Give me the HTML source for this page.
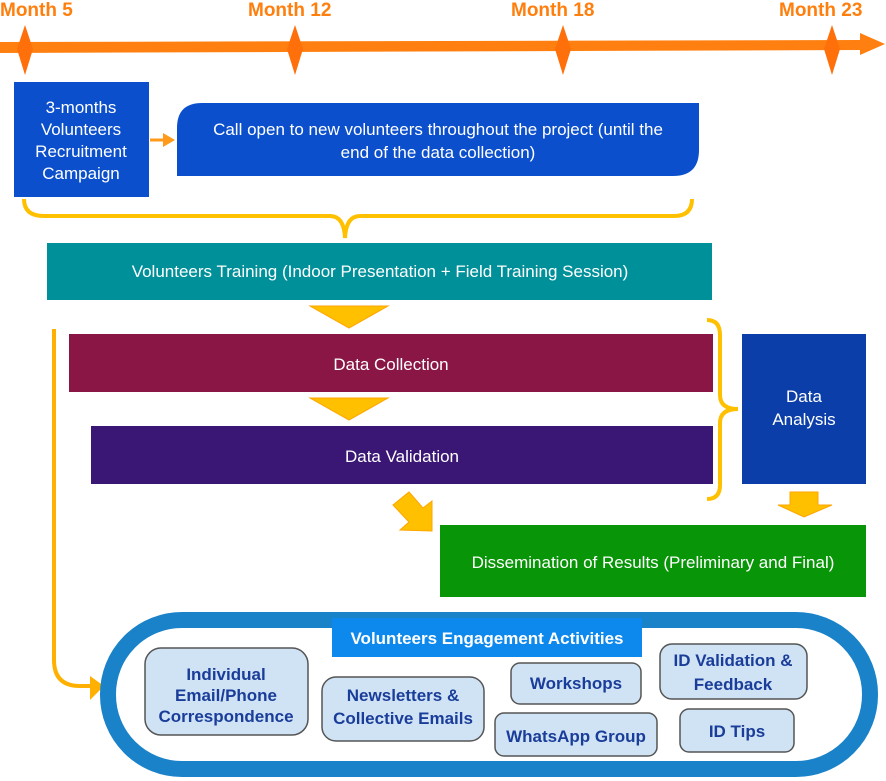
<!DOCTYPE html>
<html><head><meta charset="utf-8"><style>
html,body{margin:0;padding:0;background:#fff;}
svg{display:block;font-family:"Liberation Sans Narrow","Liberation Sans",sans-serif;}
</style></head><body>
<svg width="886" height="781" viewBox="0 0 886 781" xmlns="http://www.w3.org/2000/svg">
<!-- timeline -->
<g fill="#ff7f0e" font-weight="bold" font-size="19">
<text x="0" y="16">Month 5</text>
<text x="248" y="16">Month 12</text>
<text x="511" y="16">Month  18</text>
<text x="779" y="16">Month 23</text>
</g>
<polygon points="0,42 860,40 860,33 885,44 860,55 860,50 0,53" fill="#ff8010"/>
<g fill="#ff6f0a">
<polygon points="25,25 33,49 25,75 17,49"/>
<polygon points="295,25 303,49 295,75 287,49"/>
<polygon points="563,25 571,49 563,75 555,49"/>
<polygon points="832,25 840,49 832,75 824,49"/>
</g>
<!-- top boxes -->
<rect x="14" y="82" width="135" height="115" fill="#0b4fcc"/>
<g fill="#fff" font-size="17" text-anchor="middle">
<text x="81" y="113">3-months</text>
<text x="81" y="135">Volunteers</text>
<text x="81" y="157">Recruitment</text>
<text x="81" y="179">Campaign</text>
</g>
<line x1="150" y1="140" x2="165" y2="140" stroke="#ff9a1a" stroke-width="3"/>
<polygon points="163,133 175,140 163,147" fill="#ff9a1a"/>
<path d="M202,103 H699 V150 Q699,176 673,176 H177 V128 Q177,103 202,103 Z" fill="#0b4fcc"/>
<g fill="#fff" font-size="17" text-anchor="middle">
<text x="438" y="135">Call open to new volunteers throughout the project (until the</text>
<text x="438" y="158">end of the data collection)</text>
</g>
<!-- brace -->
<path d="M24,199 Q24,216 44,216 H330 Q344,216 345,238 Q346,216 360,216 H674 Q692,216 692,199" fill="none" stroke="#ffc000" stroke-width="4"/>
<rect x="47" y="243" width="665" height="57" fill="#00909a"/>
<text x="380" y="277" fill="#fff" font-size="17" text-anchor="middle">Volunteers Training (Indoor Presentation + Field Training Session)</text>
<polygon points="310,306 388,306 349,328" fill="#ffc000" stroke="#ffa500" stroke-width="1"/>
<rect x="69" y="334" width="644" height="58" fill="#8a1645"/>
<text x="391" y="370" fill="#fff" font-size="17" text-anchor="middle">Data Collection</text>
<polygon points="310,398 388,398 349,420" fill="#ffc000" stroke="#ffa500" stroke-width="1"/>
<rect x="91" y="426" width="622" height="58" fill="#3a1775"/>
<text x="402" y="462" fill="#fff" font-size="17" text-anchor="middle">Data Validation</text>
<rect x="742" y="334" width="124" height="150" fill="#0b3ea8"/>
<g fill="#fff" font-size="17" text-anchor="middle">
<text x="804" y="402">Data</text>
<text x="804" y="425">Analysis</text>
</g>
<path d="M707,320 Q720,320 720,335 V395 Q720,409 738,409 Q720,409 720,423 V485 Q720,499 707,499" fill="none" stroke="#ffc000" stroke-width="4"/>
<polygon points="393,505 409,492 423,508 432,501 432,531 400,530 409,522" fill="#ffc000" stroke="#ffa500" stroke-width="1"/>
<polygon points="790,492 818,492 818,505 832,505 804,517 778,505 790,505" fill="#ffc000" stroke="#ffa500" stroke-width="1"/>
<rect x="440" y="525" width="426" height="72" fill="#099508"/>
<text x="653" y="568" fill="#fff" font-size="17" text-anchor="middle">Dissemination of Results (Preliminary and Final)</text>
<!-- left line -->
<path d="M54,329 V660 Q54,686 80,686 H92" fill="none" stroke="#ffb000" stroke-width="4"/>
<polygon points="90,676 104,686 90,700" fill="#ffb000"/>
<!-- oval -->
<rect x="108" y="620" width="762" height="149" rx="74" fill="#fff" stroke="#1a82c8" stroke-width="16"/>
<rect x="332" y="618" width="310" height="39" fill="#0d88ec"/>
<text x="487" y="644" fill="#fff" font-size="17" font-weight="bold" text-anchor="middle">Volunteers Engagement Activities</text>
<g fill="#cfe3f5" stroke="#555" stroke-width="1.5">
<rect x="145" y="648" width="163" height="87" rx="16"/>
<rect x="322" y="677" width="162" height="64" rx="14"/>
<rect x="511" y="663" width="130" height="41" rx="9"/>
<rect x="495" y="713" width="162" height="43" rx="9"/>
<rect x="660" y="644" width="147" height="55" rx="12"/>
<rect x="680" y="709" width="114" height="43" rx="9"/>
</g>
<g fill="#1a3d9a" font-size="17" font-weight="bold" text-anchor="middle">
<text x="226" y="680">Individual</text>
<text x="226" y="701">Email/Phone</text>
<text x="226" y="722">Correspondence</text>
<text x="403" y="701">Newsletters &amp;</text>
<text x="403" y="724">Collective Emails</text>
<text x="576" y="689">Workshops</text>
<text x="576" y="742">WhatsApp Group</text>
<text x="733" y="666">ID Validation &amp;</text>
<text x="733" y="690">Feedback</text>
<text x="737" y="737">ID Tips</text>
</g>
</svg>
</body></html>
